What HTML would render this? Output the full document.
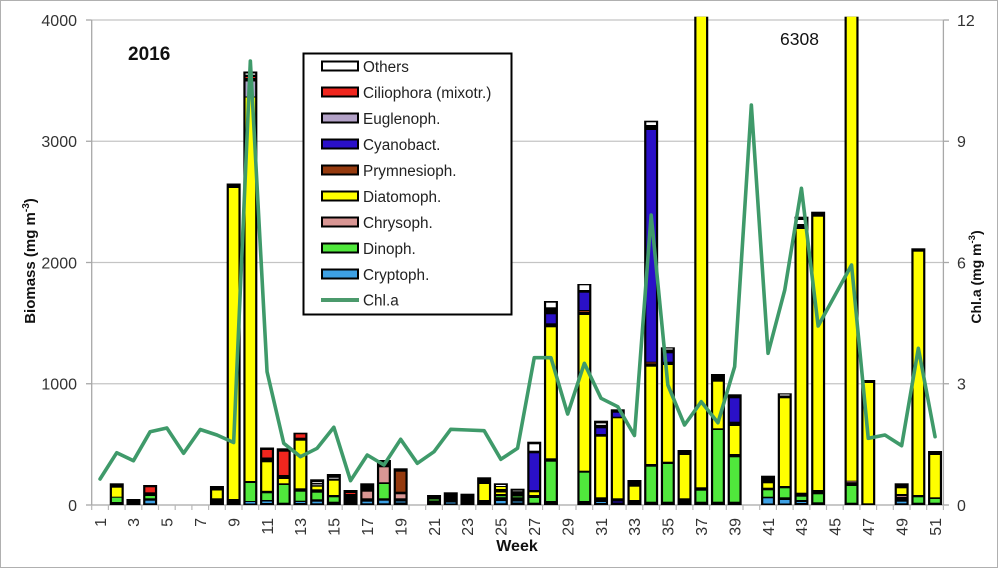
<!DOCTYPE html>
<html><head><meta charset="utf-8"><style>
html,body{margin:0;padding:0;background:#fff;}
svg{display:block;font-family:"Liberation Sans",sans-serif;}
.k{fill:#000}.Y{fill:#ffff00}.G{fill:#50e83c}.C{fill:#3da0e4}.P{fill:#d99694}.B{fill:#953a0e}.V{fill:#2a10c8}.E{fill:#ada4c8}.R{fill:#f0261e}.W{fill:#fff}
.t{font-size:16px;fill:#333}
</style></head><body>
<svg width="1000" height="569" viewBox="0 0 1000 569" xmlns="http://www.w3.org/2000/svg">
<rect x="0" y="0" width="1000" height="569" fill="#fff"/>
<rect x="0.5" y="0.5" width="997" height="567" fill="none" stroke="#b0b0b0" stroke-width="1"/>
<g stroke="#c4c4c4" stroke-width="1.2">
<line x1="91.7" y1="20" x2="943.4" y2="20"/>
<line x1="91.7" y1="141.25" x2="943.4" y2="141.25"/>
<line x1="91.7" y1="262.5" x2="943.4" y2="262.5"/>
<line x1="91.7" y1="383.75" x2="943.4" y2="383.75"/>
</g>
<g stroke="#a8a8a8" stroke-width="1.3">
<line x1="91.7" y1="20" x2="91.7" y2="505"/>
<line x1="943.4" y1="20" x2="943.4" y2="505"/>
<line x1="86" y1="20" x2="91.7" y2="20"/><line x1="86" y1="141.25" x2="91.7" y2="141.25"/><line x1="86" y1="262.5" x2="91.7" y2="262.5"/><line x1="86" y1="383.75" x2="91.7" y2="383.75"/><line x1="86" y1="505" x2="91.7" y2="505"/>
<line x1="943.4" y1="20" x2="949" y2="20"/><line x1="943.4" y1="141.25" x2="949" y2="141.25"/><line x1="943.4" y1="262.5" x2="949" y2="262.5"/><line x1="943.4" y1="383.75" x2="949" y2="383.75"/><line x1="943.4" y1="505" x2="949" y2="505"/>
<line x1="91.7" y1="505" x2="943.4" y2="505"/>
</g>
<g stroke="#b8b8b8" stroke-width="1.2">
<line x1="91.7" y1="505" x2="91.7" y2="510"/><line x1="108.4" y1="505" x2="108.4" y2="510"/><line x1="125.1" y1="505" x2="125.1" y2="510"/><line x1="141.8" y1="505" x2="141.8" y2="510"/><line x1="158.5" y1="505" x2="158.5" y2="510"/><line x1="175.2" y1="505" x2="175.2" y2="510"/><line x1="191.9" y1="505" x2="191.9" y2="510"/><line x1="208.6" y1="505" x2="208.6" y2="510"/><line x1="225.3" y1="505" x2="225.3" y2="510"/><line x1="242" y1="505" x2="242" y2="510"/><line x1="258.7" y1="505" x2="258.7" y2="510"/><line x1="275.4" y1="505" x2="275.4" y2="510"/><line x1="292.1" y1="505" x2="292.1" y2="510"/><line x1="308.8" y1="505" x2="308.8" y2="510"/><line x1="325.5" y1="505" x2="325.5" y2="510"/><line x1="342.2" y1="505" x2="342.2" y2="510"/><line x1="358.9" y1="505" x2="358.9" y2="510"/><line x1="375.6" y1="505" x2="375.6" y2="510"/><line x1="392.3" y1="505" x2="392.3" y2="510"/><line x1="409" y1="505" x2="409" y2="510"/><line x1="425.7" y1="505" x2="425.7" y2="510"/><line x1="442.4" y1="505" x2="442.4" y2="510"/><line x1="459.1" y1="505" x2="459.1" y2="510"/><line x1="475.8" y1="505" x2="475.8" y2="510"/><line x1="492.5" y1="505" x2="492.5" y2="510"/><line x1="509.2" y1="505" x2="509.2" y2="510"/><line x1="525.9" y1="505" x2="525.9" y2="510"/><line x1="542.6" y1="505" x2="542.6" y2="510"/><line x1="559.3" y1="505" x2="559.3" y2="510"/><line x1="576" y1="505" x2="576" y2="510"/><line x1="592.7" y1="505" x2="592.7" y2="510"/><line x1="609.4" y1="505" x2="609.4" y2="510"/><line x1="626.1" y1="505" x2="626.1" y2="510"/><line x1="642.8" y1="505" x2="642.8" y2="510"/><line x1="659.5" y1="505" x2="659.5" y2="510"/><line x1="676.2" y1="505" x2="676.2" y2="510"/><line x1="692.9" y1="505" x2="692.9" y2="510"/><line x1="709.6" y1="505" x2="709.6" y2="510"/><line x1="726.3" y1="505" x2="726.3" y2="510"/><line x1="743" y1="505" x2="743" y2="510"/><line x1="759.7" y1="505" x2="759.7" y2="510"/><line x1="776.4" y1="505" x2="776.4" y2="510"/><line x1="793.1" y1="505" x2="793.1" y2="510"/><line x1="809.8" y1="505" x2="809.8" y2="510"/><line x1="826.5" y1="505" x2="826.5" y2="510"/><line x1="843.2" y1="505" x2="843.2" y2="510"/><line x1="859.9" y1="505" x2="859.9" y2="510"/><line x1="876.6" y1="505" x2="876.6" y2="510"/><line x1="893.3" y1="505" x2="893.3" y2="510"/><line x1="910" y1="505" x2="910" y2="510"/><line x1="926.7" y1="505" x2="926.7" y2="510"/><line x1="943.4" y1="505" x2="943.4" y2="510"/>
</g>
<g class="t" text-anchor="end">
<text x="77" y="26">4000</text><text x="77" y="147">3000</text><text x="77" y="268.5">2000</text><text x="77" y="389.5">1000</text><text x="77" y="511">0</text>
</g>
<g class="t" text-anchor="start">
<text x="957" y="26">12</text><text x="957" y="147">9</text><text x="957" y="268.5">6</text><text x="957" y="389.5">3</text><text x="957" y="511">0</text>
</g>
<g class="t" text-anchor="end">
<text transform="translate(105.8,518) rotate(-90)">1</text>
<text transform="translate(139.2,518) rotate(-90)">3</text>
<text transform="translate(172.6,518) rotate(-90)">5</text>
<text transform="translate(206,518) rotate(-90)">7</text>
<text transform="translate(239.4,518) rotate(-90)">9</text>
<text transform="translate(272.8,518) rotate(-90)">11</text>
<text transform="translate(306.2,518) rotate(-90)">13</text>
<text transform="translate(339.6,518) rotate(-90)">15</text>
<text transform="translate(373,518) rotate(-90)">17</text>
<text transform="translate(406.4,518) rotate(-90)">19</text>
<text transform="translate(439.8,518) rotate(-90)">21</text>
<text transform="translate(473.2,518) rotate(-90)">23</text>
<text transform="translate(506.6,518) rotate(-90)">25</text>
<text transform="translate(540,518) rotate(-90)">27</text>
<text transform="translate(573.4,518) rotate(-90)">29</text>
<text transform="translate(606.8,518) rotate(-90)">31</text>
<text transform="translate(640.2,518) rotate(-90)">33</text>
<text transform="translate(673.6,518) rotate(-90)">35</text>
<text transform="translate(707,518) rotate(-90)">37</text>
<text transform="translate(740.4,518) rotate(-90)">39</text>
<text transform="translate(773.8,518) rotate(-90)">41</text>
<text transform="translate(807.2,518) rotate(-90)">43</text>
<text transform="translate(840.6,518) rotate(-90)">45</text>
<text transform="translate(874,518) rotate(-90)">47</text>
<text transform="translate(907.4,518) rotate(-90)">49</text>
<text transform="translate(940.8,518) rotate(-90)">51</text>
</g>
<text transform="translate(35,261) rotate(-90)" text-anchor="middle" font-weight="bold" font-size="15" fill="#111">Biomass (mg m<tspan font-size="10" dy="-6">-3</tspan><tspan dy="6">)</tspan></text>
<text transform="translate(981,277) rotate(-90)" text-anchor="middle" font-weight="bold" font-size="14" fill="#111">Chl.a (mg m<tspan font-size="9.5" dy="-6">-3</tspan><tspan dy="6">)</tspan></text>
<text x="517" y="551" text-anchor="middle" font-weight="bold" font-size="16" fill="#111">Week</text>
<text x="128" y="60" font-weight="bold" font-size="19" fill="#111">2016</text>
<text x="780" y="45" font-size="17.5" fill="#111">6308</text>
<g transform="translate(116.75,0)"><rect class="k" x="-7" y="483.3" width="14" height="21.7"/><rect class="Y" x="-4.8" y="487.7" width="9.6" height="9"/><rect class="G" x="-4.8" y="497.7" width="9.6" height="4.3"/></g>
<g transform="translate(133.45,0)"><rect class="k" x="-7" y="499" width="14" height="6"/></g>
<g transform="translate(150.15,0)"><rect class="k" x="-7" y="485" width="14" height="20"/><rect class="R" x="-4.8" y="487.3" width="9.6" height="5"/><rect class="G" x="-4.8" y="496" width="9.6" height="2.3"/><rect class="C" x="-4.8" y="500.7" width="9.6" height="2.6"/></g>
<g transform="translate(216.95,0)"><rect class="k" x="-7" y="486" width="14" height="19"/><rect class="Y" x="-4.8" y="490.5" width="9.6" height="7.8"/></g>
<g transform="translate(233.65,0)"><rect class="k" x="-7" y="183.5" width="14" height="321.5"/><rect class="Y" x="-4.8" y="188" width="9.6" height="311"/></g>
<g transform="translate(250.35,0)"><rect class="k" x="-7" y="71.5" width="14" height="433.5"/><rect class="W" x="-4.8" y="73.5" width="9.6" height="1.2"/><rect class="R" x="-4.8" y="77" width="9.6" height="1"/><rect class="E" x="-4.8" y="81.5" width="9.6" height="15"/><rect class="Y" x="-4.8" y="97.5" width="9.6" height="383.5"/><rect class="G" x="-4.8" y="483" width="9.6" height="18"/><rect class="C" x="-4.8" y="502" width="9.6" height="1.5"/></g>
<g transform="translate(267.05,0)"><rect class="k" x="-7" y="447.5" width="14" height="57.5"/><rect class="R" x="-4.8" y="450" width="9.6" height="7.5"/><rect class="Y" x="-4.8" y="462.3" width="9.6" height="28.5"/><rect class="G" x="-4.8" y="493.3" width="9.6" height="6.7"/><rect class="C" x="-4.8" y="501.5" width="9.6" height="1.5"/></g>
<g transform="translate(283.75,0)"><rect class="k" x="-7" y="448.3" width="14" height="56.7"/><rect class="R" x="-4.8" y="451.7" width="9.6" height="23.3"/><rect class="Y" x="-4.8" y="479" width="9.6" height="4.3"/><rect class="G" x="-4.8" y="485" width="9.6" height="17.7"/></g>
<g transform="translate(300.45,0)"><rect class="k" x="-7" y="432.7" width="14" height="72.3"/><rect class="R" x="-4.8" y="434.3" width="9.6" height="3.4"/><rect class="Y" x="-4.8" y="440.7" width="9.6" height="47.6"/><rect class="G" x="-4.8" y="491.7" width="9.6" height="9"/><rect class="C" x="-4.8" y="502" width="9.6" height="1"/></g>
<g transform="translate(317.15,0)"><rect class="k" x="-7" y="479.3" width="14" height="25.7"/><rect class="W" x="-4.8" y="482" width="9.6" height="0.8"/><rect class="W" x="-4.8" y="484.5" width="9.6" height="0.7"/><rect class="Y" x="-4.8" y="486.7" width="9.6" height="2.6"/><rect class="G" x="-4.8" y="492.7" width="9.6" height="6.6"/><rect class="C" x="-4.8" y="501.7" width="9.6" height="1.6"/></g>
<g transform="translate(333.85,0)"><rect class="k" x="-7" y="474" width="14" height="31"/><rect class="W" x="-4.8" y="477.8" width="9.6" height="0.8"/><rect class="Y" x="-4.8" y="480.7" width="9.6" height="14.3"/><rect class="G" x="-4.8" y="497.3" width="9.6" height="4.4"/></g>
<g transform="translate(350.55,0)"><rect class="k" x="-7" y="490" width="14" height="15"/><rect class="R" x="-4.8" y="493" width="9.6" height="1"/></g>
<g transform="translate(367.25,0)"><rect class="k" x="-7" y="483.3" width="14" height="21.7"/><rect class="P" x="-4.8" y="491.7" width="9.6" height="6.6"/><rect class="C" x="-4.8" y="501.7" width="9.6" height="1.6"/></g>
<g transform="translate(383.95,0)"><rect class="k" x="-7" y="460" width="14" height="45"/><rect class="P" x="-4.8" y="467.3" width="9.6" height="15"/><rect class="G" x="-4.8" y="484" width="9.6" height="14.3"/><rect class="C" x="-4.8" y="500.7" width="9.6" height="2.6"/></g>
<g transform="translate(400.65,0)"><rect class="k" x="-7" y="468.3" width="14" height="36.7"/><rect class="B" x="-4.8" y="471.7" width="9.6" height="20"/><rect class="P" x="-4.8" y="494.3" width="9.6" height="4"/><rect class="C" x="-4.8" y="501.5" width="9.6" height="1"/></g>
<g transform="translate(434.05,0)"><rect class="k" x="-7" y="495" width="14" height="10"/><rect class="G" x="-4.8" y="499.5" width="9.6" height="1"/></g>
<g transform="translate(450.75,0)"><rect class="k" x="-7" y="492.3" width="14" height="12.7"/><rect class="C" x="-4.8" y="502.5" width="9.6" height="1"/></g>
<g transform="translate(467.45,0)"><rect class="k" x="-7" y="493.7" width="14" height="11.3"/></g>
<g transform="translate(484.15,0)"><rect class="k" x="-7" y="477.3" width="14" height="27.7"/><rect class="Y" x="-4.8" y="484" width="9.6" height="16"/></g>
<g transform="translate(500.85,0)"><rect class="k" x="-7" y="483.3" width="14" height="21.7"/><rect class="W" x="-4.8" y="485" width="9.6" height="1"/><rect class="Y" x="-4.8" y="487" width="9.6" height="2"/><rect class="Y" x="-4.8" y="492.5" width="9.6" height="1.5"/><rect class="G" x="-4.8" y="496.2" width="9.6" height="1"/><rect class="C" x="-4.8" y="501" width="9.6" height="2.3"/></g>
<g transform="translate(517.55,0)"><rect class="k" x="-7" y="488.7" width="14" height="16.3"/><rect fill="#aaa" x="-4.8" y="490.5" width="9.6" height="0.8"/><rect class="G" x="-4.8" y="496.5" width="9.6" height="0.8"/><rect class="C" x="-4.8" y="501.5" width="9.6" height="1"/></g>
<g transform="translate(534.25,0)"><rect class="k" x="-7" y="441.7" width="14" height="63.3"/><rect class="W" x="-4.8" y="444.3" width="9.6" height="6.4"/><rect class="V" x="-4.8" y="453.3" width="9.6" height="36.7"/><rect class="Y" x="-4.8" y="492.3" width="9.6" height="2.7"/><rect class="G" x="-4.8" y="498" width="9.6" height="4.7"/></g>
<g transform="translate(550.95,0)"><rect class="k" x="-7" y="301" width="14" height="204"/><rect class="W" x="-4.8" y="302.7" width="9.6" height="4.6"/><rect class="V" x="-4.8" y="314.3" width="9.6" height="9"/><rect class="Y" x="-4.8" y="327.3" width="9.6" height="131"/><rect class="G" x="-4.8" y="461.7" width="9.6" height="39.3"/></g>
<g transform="translate(584.35,0)"><rect class="k" x="-7" y="284" width="14" height="221"/><rect class="W" x="-4.8" y="285.3" width="9.6" height="4.7"/><rect class="V" x="-4.8" y="292.7" width="9.6" height="17.3"/><rect class="B" x="-4.8" y="311" width="9.6" height="1"/><rect class="Y" x="-4.8" y="315" width="9.6" height="155.7"/><rect class="G" x="-4.8" y="472.7" width="9.6" height="28.3"/></g>
<g transform="translate(601.05,0)"><rect class="k" x="-7" y="420.7" width="14" height="84.3"/><rect fill="#ddd" x="-4.8" y="423.3" width="9.6" height="1.7"/><rect class="V" x="-4.8" y="428.3" width="9.6" height="5.7"/><rect class="Y" x="-4.8" y="436.7" width="9.6" height="60.6"/><rect class="C" x="-4.8" y="502" width="9.6" height="1"/></g>
<g transform="translate(617.75,0)"><rect class="k" x="-7" y="409.3" width="14" height="95.7"/><rect class="V" x="-4.8" y="412.7" width="9.6" height="4"/><rect class="Y" x="-4.8" y="418.3" width="9.6" height="80"/><rect class="V" x="-4.8" y="501.5" width="9.6" height="1"/></g>
<g transform="translate(634.45,0)"><rect class="k" x="-7" y="480" width="14" height="25"/><rect class="Y" x="-4.8" y="486.7" width="9.6" height="13.3"/></g>
<g transform="translate(651.15,0)"><rect class="k" x="-7" y="120.7" width="14" height="384.3"/><rect class="W" x="-4.8" y="122.3" width="9.6" height="2.7"/><rect class="V" x="-4.8" y="130" width="9.6" height="231.7"/><rect class="B" x="-4.8" y="362.5" width="9.6" height="1"/><rect class="Y" x="-4.8" y="366.7" width="9.6" height="97.3"/><rect class="G" x="-4.8" y="466.7" width="9.6" height="35"/></g>
<g transform="translate(667.85,0)"><rect class="k" x="-7" y="347.3" width="14" height="157.7"/><rect class="W" x="-4.8" y="348.5" width="9.6" height="1"/><rect class="V" x="-4.8" y="353.3" width="9.6" height="8.4"/><rect class="Y" x="-4.8" y="365" width="9.6" height="96.7"/><rect class="G" x="-4.8" y="464" width="9.6" height="37.7"/></g>
<g transform="translate(684.55,0)"><rect class="k" x="-7" y="450" width="14" height="55"/><rect class="Y" x="-4.8" y="455" width="9.6" height="43.3"/></g>
<g transform="translate(701.25,0)"><rect class="k" x="-7" y="16.7" width="14" height="488.3"/><rect class="Y" x="-4.8" y="16.7" width="9.6" height="470.6"/><rect class="G" x="-4.8" y="490.7" width="9.6" height="11"/></g>
<g transform="translate(717.95,0)"><rect class="k" x="-7" y="374" width="14" height="131"/><rect class="Y" x="-4.8" y="381.7" width="9.6" height="46.6"/><rect class="G" x="-4.8" y="430" width="9.6" height="71.7"/></g>
<g transform="translate(734.65,0)"><rect class="k" x="-7" y="394.3" width="14" height="110.7"/><rect class="V" x="-4.8" y="398.3" width="9.6" height="23.4"/><rect class="Y" x="-4.8" y="426" width="9.6" height="28"/><rect class="G" x="-4.8" y="457.3" width="9.6" height="44.4"/></g>
<g transform="translate(768.05,0)"><rect class="k" x="-7" y="475.7" width="14" height="29.3"/><rect class="Y" x="-4.8" y="483.3" width="9.6" height="4.4"/><rect class="G" x="-4.8" y="490.3" width="9.6" height="6.4"/><rect class="C" x="-4.8" y="498.3" width="9.6" height="5.2"/></g>
<g transform="translate(784.75,0)"><rect class="k" x="-7" y="393.3" width="14" height="111.7"/><rect class="W" x="-4.8" y="394.5" width="9.6" height="1"/><rect class="Y" x="-4.8" y="398.3" width="9.6" height="87.7"/><rect class="G" x="-4.8" y="488.3" width="9.6" height="9"/><rect class="C" x="-4.8" y="500" width="9.6" height="3.5"/></g>
<g transform="translate(801.45,0)"><rect class="k" x="-7" y="216.7" width="14" height="288.3"/><rect class="W" x="-4.8" y="220" width="9.6" height="4"/><rect class="Y" x="-4.8" y="229" width="9.6" height="263.7"/><rect class="G" x="-4.8" y="496.7" width="9.6" height="3.3"/><rect class="C" x="-4.8" y="502" width="9.6" height="1"/></g>
<g transform="translate(818.15,0)"><rect class="k" x="-7" y="211.7" width="14" height="293.3"/><rect class="Y" x="-4.8" y="216.7" width="9.6" height="273.3"/><rect class="G" x="-4.8" y="494.3" width="9.6" height="8"/></g>
<g transform="translate(851.55,0)"><rect class="k" x="-7" y="16.7" width="14" height="488.3"/><rect class="Y" x="-4.8" y="16.7" width="9.6" height="464"/><rect class="P" x="-4.8" y="481.5" width="9.6" height="0.7"/><rect class="G" x="-4.8" y="486" width="9.6" height="16.7"/></g>
<g transform="translate(868.25,0)"><rect class="k" x="-7" y="380" width="14" height="125"/><rect class="Y" x="-4.8" y="383" width="9.6" height="120.3"/></g>
<g transform="translate(901.65,0)"><rect class="k" x="-7" y="483.3" width="14" height="21.7"/><rect class="Y" x="-4.8" y="488.3" width="9.6" height="5.7"/><rect class="P" x="-4.8" y="496.2" width="9.6" height="0.8"/><rect class="C" x="-4.8" y="501.7" width="9.6" height="1.6"/></g>
<g transform="translate(918.35,0)"><rect class="k" x="-7" y="248.3" width="14" height="256.7"/><rect class="Y" x="-4.8" y="251.7" width="9.6" height="243.3"/><rect class="G" x="-4.8" y="497.3" width="9.6" height="5.4"/></g>
<g transform="translate(935.05,0)"><rect class="k" x="-7" y="451" width="14" height="54"/><rect class="Y" x="-4.8" y="455" width="9.6" height="42.3"/><rect class="G" x="-4.8" y="499" width="9.6" height="3.7"/></g>
<polyline fill="none" stroke="#3f9a6a" stroke-width="3.6" stroke-linejoin="round" stroke-linecap="round" points="100.05,479 116.75,452.7 133.45,460.7 150.15,431.7 166.85,428 183.55,453.3 200.25,429.5 216.95,435 233.65,442.5 250.35,61 267.05,371.7 283.75,443.3 300.45,456.7 317.15,448.3 333.85,427.3 350.55,480.7 367.25,455 383.95,465 400.65,439.3 417.35,463.3 434.05,451.7 450.75,429.3 467.45,430 484.15,430.7 500.85,459.3 517.55,448.3 534.25,357.7 550.95,357.7 567.65,414 584.35,363.3 601.05,398.3 617.75,406.7 634.45,435.5 651.15,215 667.85,385 684.55,425 701.25,401.7 717.95,422.7 734.65,366.7 751.35,105 768.05,353.3 784.75,290 801.45,188.3 818.15,326 834.85,295.5 851.55,265 868.25,438.3 884.95,435 901.65,445.7 918.35,348.3 935.05,436.7"/>
<rect x="303.5" y="53.5" width="208" height="261" fill="#fff" stroke="#000" stroke-width="2"/>
<g stroke="#000" stroke-width="2">
<rect x="322" y="61.5" width="36" height="9" fill="#fff"/>
<rect x="322" y="87.5" width="36" height="9" fill="#f0261e"/>
<rect x="322" y="113.5" width="36" height="9" fill="#b3a2c7"/>
<rect x="322" y="139.5" width="36" height="9" fill="#2a10c8"/>
<rect x="322" y="165.5" width="36" height="9" fill="#953a0e"/>
<rect x="322" y="191.5" width="36" height="9" fill="#ffff00"/>
<rect x="322" y="217.5" width="36" height="9" fill="#d99694"/>
<rect x="322" y="243.5" width="36" height="9" fill="#50e83c"/>
<rect x="322" y="269.5" width="36" height="9" fill="#3da0e4"/>
</g>
<line x1="321" y1="300" x2="359" y2="300" stroke="#4b9a6c" stroke-width="4"/>
<g font-size="15.3" fill="#222">
<text x="363" y="72">Others</text>
<text x="363" y="98">Ciliophora (mixotr.)</text>
<text x="363" y="124">Euglenoph.</text>
<text x="363" y="150">Cyanobact.</text>
<text x="363" y="176">Prymnesioph.</text>
<text x="363" y="202">Diatomoph.</text>
<text x="363" y="228">Chrysoph.</text>
<text x="363" y="254">Dinoph.</text>
<text x="363" y="280">Cryptoph.</text>
<text x="363" y="305.5">Chl.a</text>
</g>
</svg>
</body></html>
